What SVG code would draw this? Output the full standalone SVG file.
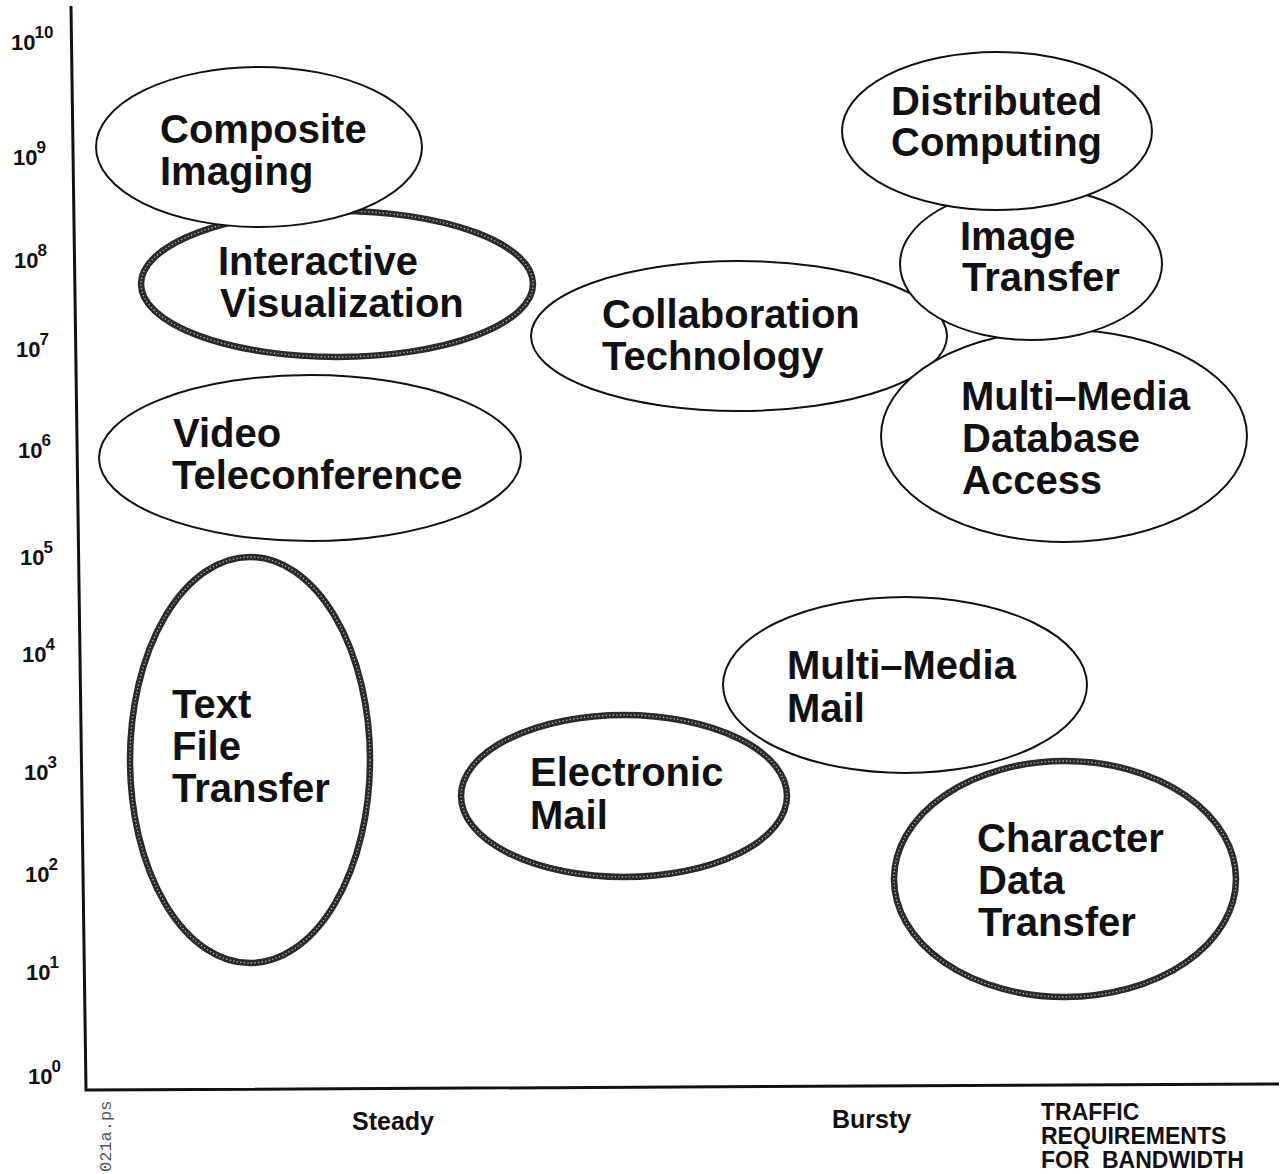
<svg xmlns="http://www.w3.org/2000/svg" width="1285" height="1174" viewBox="0 0 1285 1174">
<style>
  .thin { fill: #fff; stroke: #111; stroke-width: 2; }
  .thick { fill: #fff; stroke: #2a2a2a; stroke-width: 6.5; }
  .hatch { fill: none; stroke: #fff; stroke-width: 1.3; stroke-dasharray: 1.2 2.4; opacity: 0.7; }
  .lbl { font-family: "Liberation Sans", Arial, sans-serif; font-weight: bold; font-size: 40px; fill: #111; }
  .ax { font-family: "Liberation Sans", Arial, sans-serif; font-weight: bold; font-size: 22px; fill: #111; }
  .sup { font-size: 17px; }
  .axt { font-family: "Liberation Sans", Arial, sans-serif; font-weight: bold; font-size: 25px; fill: #111; }
  .cap { font-family: "Liberation Sans", Arial, sans-serif; font-weight: bold; font-size: 23px; fill: #111; }
  .axis { stroke: #111; stroke-width: 3; fill: none; }
</style>
<rect width="1285" height="1174" fill="#fff"/>

<g id="axes">
  <polyline class="axis" points="71,6 86,1090 1279,1084"/>
  <g class="ax">
    <text x="11" y="50">10<tspan class="sup" dx="-1" dy="-12">10</tspan></text>
    <text x="13" y="165">10<tspan class="sup" dx="-1" dy="-12">9</tspan></text>
    <text x="14" y="268">10<tspan class="sup" dx="-1" dy="-12">8</tspan></text>
    <text x="16" y="357">10<tspan class="sup" dx="-1" dy="-12">7</tspan></text>
    <text x="18" y="458">10<tspan class="sup" dx="-1" dy="-12">6</tspan></text>
    <text x="20" y="565">10<tspan class="sup" dx="-1" dy="-12">5</tspan></text>
    <text x="22" y="662">10<tspan class="sup" dx="-1" dy="-12">4</tspan></text>
    <text x="24" y="780">10<tspan class="sup" dx="-1" dy="-12">3</tspan></text>
    <text x="25" y="882">10<tspan class="sup" dx="-1" dy="-12">2</tspan></text>
    <text x="26" y="980">10<tspan class="sup" dx="-1" dy="-12">1</tspan></text>
    <text x="28" y="1084">10<tspan class="sup" dx="-1" dy="-12">0</tspan></text>
  </g>
  <text class="axt" x="352" y="1130">Steady</text>
  <text class="axt" x="832" y="1128">Bursty</text>
  <text class="cap" x="1041" y="1120">TRAFFIC</text>
  <text class="cap" x="1041" y="1144">REQUIREMENTS</text>
  <text class="cap" x="1041" y="1168" word-spacing="6">FOR BANDWIDTH</text>
  <text x="111" y="1172" transform="rotate(-90 111 1172)" font-family="'Liberation Mono', 'Courier New', monospace" font-size="17" fill="#555">021a.ps</text>
</g>

<g id="interactive-visualization">
  <ellipse class="thick" cx="337" cy="284" rx="196" ry="73"/>
  <ellipse class="hatch" cx="337" cy="284" rx="196" ry="73"/>
  <text class="lbl" x="218" y="275">Interactive</text>
  <text class="lbl" x="220" y="317">Visualization</text>
</g>

<g id="composite-imaging">
  <ellipse class="thin" cx="259" cy="147" rx="163" ry="80"/>
  <text class="lbl" x="160" y="143">Composite</text>
  <text class="lbl" x="160" y="185">Imaging</text>
</g>

<g id="video-teleconference">
  <ellipse class="thin" cx="310" cy="458" rx="211" ry="83"/>
  <text class="lbl" x="173" y="447">Video</text>
  <text class="lbl" x="172" y="489">Teleconference</text>
</g>

<g id="text-file-transfer">
  <ellipse class="thick" cx="250" cy="760" rx="120" ry="203"/>
  <ellipse class="hatch" cx="250" cy="760" rx="120" ry="203"/>
  <text class="lbl" x="172" y="718">Text</text>
  <text class="lbl" x="172" y="760">File</text>
  <text class="lbl" x="172" y="802">Transfer</text>
</g>

<g id="collaboration-technology">
  <ellipse class="thin" cx="739" cy="336" rx="208" ry="75"/>
  <text class="lbl" x="602" y="328">Collaboration</text>
  <text class="lbl" x="602" y="370">Technology</text>
</g>

<g id="multi-media-database-access">
  <ellipse class="thin" cx="1064" cy="436" rx="183" ry="106"/>
  <text class="lbl" x="961" y="410">Multi–Media</text>
  <text class="lbl" x="962" y="452">Database</text>
  <text class="lbl" x="962" y="494">Access</text>
</g>

<g id="image-transfer">
  <ellipse class="thin" cx="1031" cy="264" rx="131" ry="76"/>
  <text class="lbl" x="960" y="250">Image</text>
  <text class="lbl" x="962" y="291">Transfer</text>
</g>

<g id="distributed-computing">
  <ellipse class="thin" cx="997" cy="131" rx="155" ry="79"/>
  <text class="lbl" x="891" y="115">Distributed</text>
  <text class="lbl" x="891" y="156">Computing</text>
</g>

<g id="multi-media-mail">
  <ellipse class="thin" cx="905" cy="685" rx="182" ry="88"/>
  <text class="lbl" x="787" y="679">Multi–Media</text>
  <text class="lbl" x="787" y="722">Mail</text>
</g>

<g id="electronic-mail">
  <ellipse class="thick" cx="624" cy="796" rx="163" ry="81"/>
  <ellipse class="hatch" cx="624" cy="796" rx="163" ry="81"/>
  <text class="lbl" x="530" y="786">Electronic</text>
  <text class="lbl" x="530" y="829">Mail</text>
</g>

<g id="character-data-transfer">
  <ellipse class="thick" cx="1065" cy="879" rx="171" ry="118"/>
  <ellipse class="hatch" cx="1065" cy="879" rx="171" ry="118"/>
  <text class="lbl" x="977" y="852">Character</text>
  <text class="lbl" x="978" y="894">Data</text>
  <text class="lbl" x="978" y="936">Transfer</text>
</g>

<g id="connectors"></g>
</svg>
